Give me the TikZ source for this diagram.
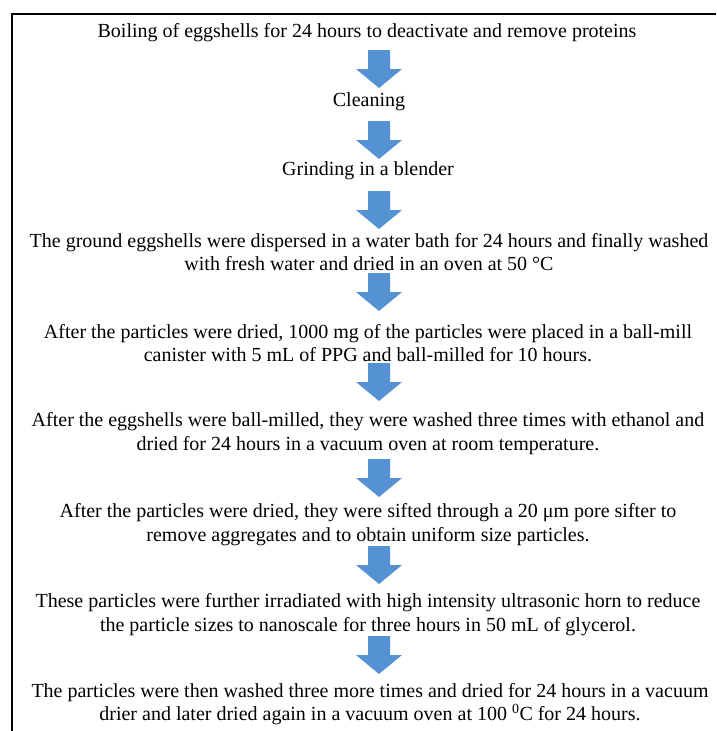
\documentclass[tikz,border=0pt]{standalone}
\usepackage{fontspec}
\setmainfont{Liberation Serif}
\definecolor{arrowblue}{HTML}{5592D3}
\begin{document}
\begin{tikzpicture}[x=1pt,y=-1pt,
  txt/.style={font=\fontsize{20}{23.5}\selectfont, align=center, inner sep=0pt},
  blk/.pic={\fill[arrowblue] (-11,0) -- (11,0) -- (11,19) -- (23,19) -- (0,38) -- (-23,19) -- (-11,19) -- cycle;}]
\useasboundingbox (0,0) rectangle (716,731);
\draw[line width=2pt] (12,731) -- (12,14) -- (716,14);
\node[txt] (t1) at (367,33) {Boiling of eggshells for 24 hours to deactivate and remove proteins};
\node[txt] (t2) at (369,102) {Cleaning};
\node[txt] (t3) at (368,171) {Grinding in a blender};
\node[txt] (t4) at (369,252) {The ground eggshells were dispersed in a water bath for 24 hours and finally washed\\with fresh water and dried in an oven at 50 °C};
\node[txt] (t5) at (368,343) {After the particles were dried, 1000 mg of the particles were placed in a ball-mill\\canister with 5 mL of PPG and ball-milled for 10 hours.};
\node[txt] (t6) at (368,433.5) {After the eggshells were ball-milled, they were washed three times with ethanol and\\dried for 24 hours in a vacuum oven at room temperature.};
\node[txt] (t7) at (368,524.5) {After the particles were dried, they were sifted through a 20 μm pore sifter to\\remove aggregates and to obtain uniform size particles.};
\node[txt] (t8) at (368,614.5) {These particles were further irradiated with high intensity ultrasonic horn to reduce\\the particle sizes to nanoscale for three hours in 50 mL of glycerol.};
\node[txt] (t9) at (370,704) {The particles were then washed three more times and dried for 24 hours in a vacuum\\drier and later dried again in a vacuum oven at 100 \textsuperscript{0}C for 24 hours.};
\pic (a1) at (379,50) {blk};
\pic (a2) at (379,121) {blk};
\pic (a3) at (379,191) {blk};
\pic (a4) at (379,273) {blk};
\pic (a5) at (379,363) {blk};
\pic (a6) at (379,459) {blk};
\pic (a7) at (379,546) {blk};
\pic (a8) at (379,636) {blk};
\end{tikzpicture}
\end{document}
